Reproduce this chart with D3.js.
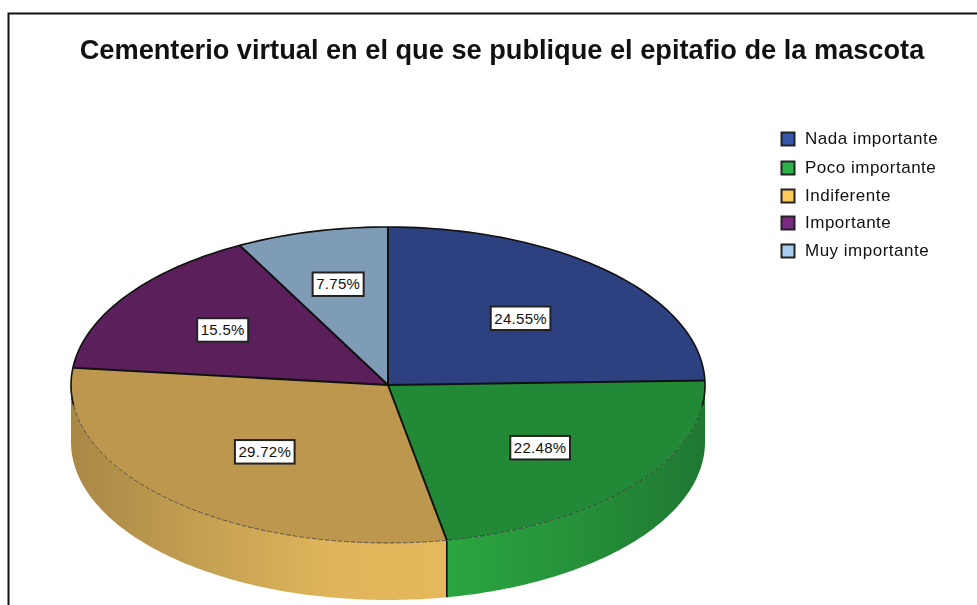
<!DOCTYPE html>
<html><head><meta charset="utf-8">
<script src="https://cdn.jsdelivr.net/npm/d3@7"></script>
<style>html,body{margin:0;padding:0;background:#fff}svg{display:block;filter:blur(.45px)}text{font-family:"Liberation Sans",Arial,sans-serif;fill:#111}</style>
</head><body><svg id="c" width="977" height="605"></svg>
<script>
const categories=["Nada importante","Poco importante","Indiferente","Importante","Muy importante"];
const values=[24.55,22.48,29.72,15.5,7.75];
const labels=["24.55%","22.48%","29.72%","15.5%","7.75%"];
const topColors=["#2d4180","#228a36","#bd974d","#5b1f5b","#7f9cb6"];
const legendColors=["#3557a8","#2db24a","#fdc95e","#7b2a84","#a9cfee"];
const title="Cementerio virtual en el que se publique el epitafio de la mascota";

const svg=d3.select("#c");
const cx=388,cy=385,rx=317,ry=158,depth=57;
const sx=d3.scaleLinear().domain([-1,1]).range([cx-rx,cx+rx]);
const sy=d3.scaleLinear().domain([-1,1]).range([cy-ry,cy+ry]);
const pt=(a,r=1)=>[sx(r*Math.sin(a)),sy(-r*Math.cos(a))];
const arcs=d3.pie().sort(null).value(d=>d)(values);

// border
svg.append("path").attr("d","M977,13.5H8.5V605").attr("fill","none").attr("stroke","#111").attr("stroke-width",2);

const defs=svg.append("defs");
const sideGrads=[null,
  {x1:447,x2:705,stops:[[0,"#2ba640"],[.45,"#26933a"],[1,"#1f7832"]]},
  {x1:71,x2:445,stops:[[0,"#a98846"],[.35,"#c4a052"],[.7,"#e0b55b"],[1,"#e5b85c"]]},null,null];
sideGrads.forEach((g,i)=>{ if(!g)return;
  const lg=defs.append("linearGradient").attr("id","side"+i).attr("gradientUnits","userSpaceOnUse")
    .attr("x1",g.x1).attr("x2",g.x2).attr("y1",0).attr("y2",0);
  g.stops.forEach(s=>lg.append("stop").attr("offset",s[0]).attr("stop-color",s[1]));
});
const line=d3.line();
const arcPts=(a0,a1)=>d3.range(0,121).map(k=>pt(a0+(a1-a0)*k/120));

// side wall: visible part of each slice
const vis0=Math.PI/2,vis1=Math.PI*3/2;
arcs.forEach((d,i)=>{
  const a0=Math.max(d.startAngle,vis0),a1=Math.min(d.endAngle,vis1);
  if(a1<=a0||!sideGrads[i])return;
  const upper=arcPts(a0,a1),lower=upper.map(p=>[p[0],p[1]+depth]).reverse();
  svg.append("path").attr("d",line(upper.concat(lower))+"Z").attr("fill",`url(#side${i})`);
});
const e=pt(arcs[1].endAngle);
svg.append("path").attr("d",line([e,[e[0],e[1]+depth]])).attr("stroke","#111").attr("stroke-width",1.6);

// top face
arcs.forEach((d,i)=>{
  const pts=[[cx,cy]].concat(arcPts(d.startAngle,d.endAngle));
  svg.append("path").attr("d",line(pts)+"Z").attr("fill",topColors[i]).attr("stroke","none");
});
arcs.forEach(d=>{
  svg.append("path").attr("d",line([[cx,cy],pt(d.startAngle)])).attr("stroke","#111").attr("stroke-width",2).attr("fill","none");
});
// rim: solid on the back half and its ends, thin dashes on the front
svg.append("path").attr("d",line(arcPts(-Math.PI/2-0.13,-Math.PI/2+0.001).concat(arcPts(-Math.PI/2,Math.PI/2+0.13)))).attr("fill","none").attr("stroke","#111").attr("stroke-width",1.6);
svg.append("path").attr("d",line(arcPts(Math.PI/2,Math.PI*3/2))).attr("fill","none").attr("stroke","#222").attr("stroke-width",.8).attr("stroke-dasharray","5 1.5").attr("opacity",.8);

// labels
const labelNudge=[[0,1],[4,3],[6,-3],[-8,-2],[-4,-9]];
arcs.forEach((d,i)=>{
  const p=pt((d.startAngle+d.endAngle)/2,.6);
  const g=svg.append("g").attr("transform",`translate(${p[0]+labelNudge[i][0]},${p[1]+labelNudge[i][1]})`);
  const t=g.append("text").attr("text-anchor","middle").attr("y",5.5).attr("font-size",15).attr("letter-spacing",.3).text(labels[i]);
  const w=Math.max(t.node().getComputedTextLength(),42);
  g.insert("rect","text").attr("x",-w/2-3.5).attr("y",-11.5).attr("width",w+7).attr("height",23.5)
    .attr("fill","#fff").attr("stroke","#222").attr("stroke-width",2);
});

// title
svg.append("text").attr("x",502).attr("y",59).attr("text-anchor","middle").attr("font-size",27.2).attr("font-weight","bold").text(title);

// legend
const ly=d3.scaleOrdinal().domain(categories).range([139,168,196,223,251]);
categories.forEach((c,i)=>{
  svg.append("rect").attr("x",781.5).attr("y",ly(c)-6.5).attr("width",13).attr("height",13)
    .attr("fill",legendColors[i]).attr("stroke","#222").attr("stroke-width",2);
  svg.append("text").attr("x",805).attr("y",ly(c)+5).attr("font-size",17).attr("letter-spacing",.5).attr("fill","#222").text(c);
});
</script></body></html>
